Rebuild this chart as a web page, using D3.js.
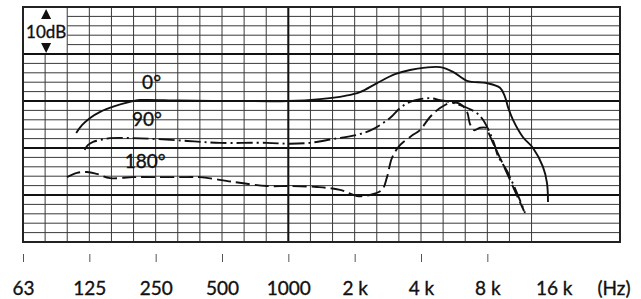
<!DOCTYPE html>
<html>
<head>
<meta charset="utf-8">
<script src="https://cdn.jsdelivr.net/npm/d3@7"></script>
<style>
  body { margin: 0; background: #fff; }
  svg { display: block; font-family: Lato, "Open Sans", sans-serif; }
  text { fill: #111; stroke: #111; stroke-width: 0.35px; }
</style>
</head>
<body>
<svg width="641" height="299"></svg>
<script>
// frequency response, values (Hz, dB re 1 kHz on axis)
var tickFreqs = [62.5, 125, 250, 500, 1000, 2000, 4000, 8000, 16000];
var tickLabels = ["63", "125", "250", "500", "1000", "2 k", "4 k", "8 k", "16 k"];

var curve0 = [
  [109, -6.8], [116, -5.1], [126, -3.6], [140, -2.3], [163, -1.1], [191, -0.2],
  [212, 0.2], [322, 0.1], [603, 0], [1000, 0], [1392, 0.4], [1808, 1.1],
  [2115, 1.9], [2526, 3.8], [3049, 5.7], [3566, 6.6], [4171, 7.1], [4879, 7.2],
  [5589, 6.2], [6469, 4.3], [7973, 3.8], [9132, 2.8], [9623, 0.9], [9930, -1.3],
  [10460, -4.0], [11614, -7.7], [12892, -10.0], [14310, -14.0], [14920, -17.4],
  [15080, -21.5]
];

var curve90 = [
  [119, -10.4], [123, -9.4], [130, -8.7], [140, -8.3], [155, -7.9], [197, -7.9],
  [253, -8.1], [347, -8.5], [490, -8.9], [800, -8.9], [1017, -9.1], [1254, -8.9],
  [1595, -8.1], [2050, -7.2], [2423, -6.0], [2893, -3.6], [3212, -1.5],
  [3566, -0.2], [3958, 0.4], [4395, 0.6], [4879, 0.2], [5589, -0.4], [6204, -1.1],
  [7182, -2.6], [7646, -4.0], [7973, -5.5], [8226, -6.8], [8667, -9.6],
  [8943, -11.7], [9826, -14.9], [10906, -19.6], [11860, -23.8]
];

var curve180 = [
  [99, -16.2], [110, -15.3], [122, -15.1], [135, -15.5], [155, -16.4], [197, -16.2],
  [253, -16.2], [347, -16.2], [397, -16.2], [561, -17.2], [800, -18.1],
  [1017, -18.1], [1349, -18.3], [1716, -18.9], [2050, -20.2], [2348, -20.0],
  [2661, -18.9], [2804, -16.2], [2954, -12.1], [3212, -9.4], [3680, -7.2],
  [3958, -6.2], [4395, -3.4], [4879, -1.5], [5416, -0.4], [6013, -0.6],
  [6469, -2.3], [6676, -4.9], [6960, -6.2], [7411, -5.7], [7890, -5.7],
  [8140, -7.0], [8577, -9.4], [9132, -12.1], [10140, -16.8], [11020, -20.6],
  [11740, -23.4]
];

var curveLabels = ["0°", "90°", "180°"];
var labelPos = [[217, 2.6], [195, -5.4], [181, -14.3]];

var svg = d3.select("svg");

// plot box (note: "top" is taken by window.top)
var box = { left: 23, right: 620, top: 7, bottom: 242 };

var x = d3.scaleLog().domain([62.5, 32000]).range([box.left, box.right]);
var y = d3.scaleLinear().domain([-30, 20]).range([box.bottom, box.top]);

var grid = svg.append("g");

// thin 1/3 octave lines
var thirds = d3.range(1, 24).map(k => 62.5 * Math.pow(2, k / 3));
grid.selectAll(".v")
  .data(thirds)
  .enter()
  .append("line")
  .attr("x1", d => x(d))
  .attr("x2", d => x(d))
  .attr("y1", (d, i) => i == 0 ? y(10) : box.top)
  .attr("y2", box.bottom)
  .attr("stroke", "#3a3a3a")
  .attr("stroke-width", 1);

// 2 dB lines
var dbs = d3.range(-28, 20, 2);
grid.selectAll(".h")
  .data(dbs)
  .enter()
  .append("line")
  .attr("x1", d => d > 10 ? x(62.5 * Math.pow(2, 2 / 3)) : box.left)
  .attr("x2", box.right)
  .attr("y1", d => y(d))
  .attr("y2", d => y(d))
  .attr("stroke", d => d % 10 == 0 ? "#111" : "#3a3a3a")
  .attr("stroke-width", d => d % 10 == 0 ? 2 : 1);

// 1 kHz line
grid.append("line")
  .attr("x1", x(1000)).attr("x2", x(1000))
  .attr("y1", box.top).attr("y2", box.bottom)
  .attr("stroke", "#111")
  .attr("stroke-width", 2);

// frame
svg.append("rect")
  .attr("x", box.left).attr("y", box.top)
  .attr("width", box.right - box.left).attr("height", box.bottom - box.top)
  .attr("fill", "none")
  .attr("stroke", "#222")
  .attr("stroke-width", 2);

// 10 dB scale marker
var ax = x(62.5 * Math.pow(2, 1 / 3)) + 1;
svg.append("path")
  .attr("d", `M${ax},${box.top + 2} l-5,10 h10 z M${ax},${y(10) - 1} l-5,-10 h10 z`)
  .attr("fill", "#111");
svg.append("text")
  .attr("x", ax)
  .attr("y", 38)
  .attr("text-anchor", "middle")
  .attr("font-size", 17)
  .text("10dB");

// curves
var line = d3.line()
  .x(d => x(d[0]))
  .y(d => y(d[1]))
  .curve(d3.curveCatmullRom.alpha(0.5));

var series = [
  { data: curve0, dash: null },
  { data: curve90, dash: "16,4,2,4" },
  { data: curve180, dash: "14,5" }
];

svg.selectAll(".curve")
  .data(series)
  .enter()
  .append("path")
  .attr("d", d => line(d.data))
  .attr("fill", "none")
  .attr("stroke", "#111")
  .attr("stroke-width", 1.9)
  .attr("stroke-dasharray", d => d.dash);

svg.selectAll(".lbl")
  .data(curveLabels)
  .enter()
  .append("text")
  .attr("x", (d, i) => x(labelPos[i][0]))
  .attr("y", (d, i) => y(labelPos[i][1]))
  .attr("font-size", 19)
  .text(d => d);

// frequency axis
var xAxis = d3.axisBottom(x)
  .tickValues(tickFreqs)
  .tickFormat((d, i) => tickLabels[i])
  .tickSize(8);

var axisG = svg.append("g")
  .attr("transform", "translate(0,254)")
  .call(xAxis);
axisG.select(".domain").remove();
axisG.selectAll(".tick line").attr("stroke", "#555");
axisG.selectAll(".tick").filter(d => d == 16000).select("line").remove();
axisG.selectAll(".tick text")
  .attr("y", 41)
  .attr("dy", null)
  .attr("font-size", 19)
  .attr("font-family", "Lato, sans-serif")
  .attr("fill", "#111");

svg.append("text")
  .attr("x", 614)
  .attr("y", 295)
  .attr("text-anchor", "middle")
  .attr("font-size", 19)
  .text("(Hz)");
</script>
</body>
</html>
